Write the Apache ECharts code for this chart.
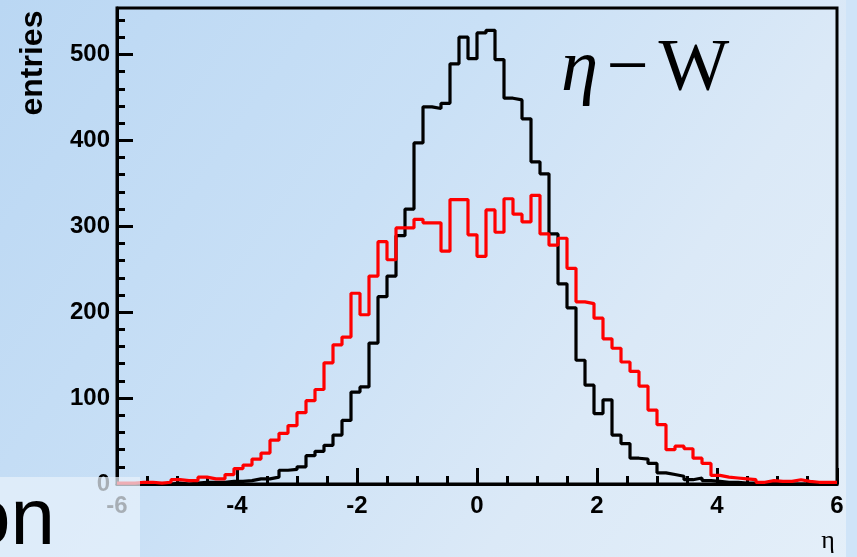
<!DOCTYPE html>
<html>
<head>
<meta charset="utf-8">
<script src="https://cdn.jsdelivr.net/npm/echarts@6/dist/echarts.min.js"></script>
<style>
  html, body { margin: 0; padding: 0; }
  #chart {
    width: 857px; height: 557px;
    background: linear-gradient(125deg, #bad7f3 0%, #c9e0f6 40%, #dbe9f7 70%, #e4eff9 100%);
  }
</style>
</head>
<body>
<div id="chart"></div>
<script>
// Histogram binning: 80 bins of width 0.15 covering eta in [-6, 6]
const binLow = -6;
const binWidth = 0.15;

// Entries per bin, black histogram
const countsBlack = [
  0, 0, 0, 0, 0, 0, 1, 0, 1, 2,
  2, 2, 3, 3, 4, 6, 6, 8, 16, 17,
  20, 33, 38, 45, 57, 74, 107, 113, 164, 218,
  242, 289, 320, 397, 439, 437, 443, 489, 520, 495,
  525, 528, 494, 449, 447, 425, 375, 361, 291, 233,
  205, 144, 115, 82, 98, 57, 47, 30, 29, 24,
  13, 11, 9, 5, 7, 4, 3, 2, 2, 1,
  1, 0, 1, 0, 0, 0, 0, 0, 0, 0
];

// Entries per bin, red histogram
const countsRed = [
  1, 1, 2, 2, 1, 2, 5, 4, 4, 8,
  6, 6, 11, 18, 22, 29, 36, 51, 59, 68,
  83, 97, 110, 141, 162, 171, 222, 197, 242, 282,
  261, 298, 298, 308, 304, 304, 271, 331, 331, 290,
  265, 319, 293, 332, 314, 305, 336, 291, 278, 286,
  251, 212, 210, 193, 169, 158, 142, 131, 114, 86,
  69, 40, 44, 41, 30, 24, 10, 8, 7, 6,
  5, 2, 4, 3, 3, 5, 3, 2, 2, 2
];

// Axis ranges and tick values
const xRange = [-6, 6];
const xMajorStep = 2;
const yRange = [0, 554];
const yMajorTicks = [0, 100, 200, 300, 400, 500];
const yMinorTicks = [20, 40, 60, 80, 120, 140, 160, 180, 220, 240, 260, 280,
                     320, 340, 360, 380, 420, 440, 460, 480, 520, 540];

// Turn bin contents into step-line points: one point per lower bin edge,
// plus the upper edge of the last bin so the final step is drawn.
function stepPoints(counts) {
  const pts = counts.map((c, i) => [binLow + i * binWidth, c]);
  pts.push([binLow + counts.length * binWidth, counts[counts.length - 1]]);
  return pts;
}

const labelFont = {
  color: '#000',
  fontFamily: '"Liberation Sans", Arial, sans-serif',
  fontWeight: 'bold',
  fontSize: 24
};

const chart = echarts.init(document.getElementById('chart'), null, { renderer: 'canvas' });

chart.setOption({
  backgroundColor: 'transparent',
  animation: false,
  grid: {
    left: 117, right: 20, top: 8, bottom: 73,
    show: true,
    borderColor: '#000',
    borderWidth: 3,
    backgroundColor: 'transparent'
  },
  xAxis: {
    type: 'value',
    min: xRange[0], max: xRange[1], interval: xMajorStep,
    axisLine: { show: true, onZero: false, lineStyle: { color: '#000', width: 3 } },
    axisTick: { show: true, inside: true, length: 16, lineStyle: { color: '#000', width: 3 } },
    minorTick: { show: true, splitNumber: 4, length: 8, lineStyle: { color: '#000', width: 3 } },
    splitLine: { show: false },
    axisLabel: Object.assign({ margin: 10 }, labelFont)
  },
  yAxis: [
    {
      type: 'value',
      min: yRange[0], max: yRange[1],
      position: 'left',
      axisLine: { show: true, onZero: false, lineStyle: { color: '#000', width: 3 } },
      axisTick: { show: true, inside: true, length: 16, customValues: yMajorTicks,
                  lineStyle: { color: '#000', width: 3 } },
      splitLine: { show: false },
      axisLabel: Object.assign({ margin: 7, customValues: yMajorTicks }, labelFont)
    },
    {
      type: 'value',
      min: yRange[0], max: yRange[1],
      position: 'left',
      axisLine: { show: false, onZero: false },
      axisTick: { show: true, inside: true, length: 8, customValues: yMinorTicks,
                  lineStyle: { color: '#000', width: 3 } },
      splitLine: { show: false },
      axisLabel: { show: false }
    }
  ],
  series: [
    {
      type: 'line',
      step: 'end',
      symbol: 'none',
      data: stepPoints(countsBlack),
      lineStyle: { color: '#000', width: 3.2 },
      z: 3
    },
    {
      type: 'line',
      step: 'end',
      symbol: 'none',
      data: stepPoints(countsRed),
      lineStyle: { color: '#ff0000', width: 3.2 },
      z: 4
    }
  ],
  graphic: [
    // slide strip at the right edge
    {
      type: 'rect', z: -1, silent: true,
      shape: { x: 846, y: 0, width: 11, height: 557 },
      style: { fill: '#cfe4f8' }
    },
    // y-axis title
    {
      type: 'text', x: 33, y: 63, rotation: Math.PI / 2, z: 10,
      style: {
        text: 'entries',
        font: 'bold 32px "Liberation Sans", Arial, sans-serif',
        fill: '#000', align: 'center', verticalAlign: 'middle'
      }
    },
    // x-axis title
    {
      type: 'text', x: 828, y: 541, z: 10,
      style: {
        text: 'η',
        font: '26px "Liberation Serif", "DejaVu Serif", serif',
        fill: '#000', align: 'center', verticalAlign: 'middle'
      }
    },
    // histogram caption
    {
      type: 'text', x: 561, y: 70, z: 10,
      style: {
        text: '{e|η}{m|−}{w|W}',
        fill: '#000', align: 'left', verticalAlign: 'middle',
        rich: {
          e: { font: 'italic 75px "Liberation Serif", "DejaVu Serif", serif', fill: '#000', padding: [0, 8, 0, 0] },
          m: { font: '75px "Liberation Serif", "DejaVu Serif", serif', fill: '#000', padding: [0, 10, 0, 0] },
          w: { font: '75px "Liberation Serif", "DejaVu Serif", serif', fill: '#000' }
        }
      }
    },
    // translucent text box in the lower-left corner
    {
      type: 'rect', z: 50, silent: true,
      shape: { x: 0, y: 477, width: 140, height: 80 },
      style: { fill: 'rgba(232,241,251,0.72)' }
    },
    {
      type: 'text', x: 55, y: 522, z: 60,
      style: {
        text: 'on',
        font: '80px "Liberation Sans", Arial, sans-serif',
        fill: '#000', align: 'right', verticalAlign: 'middle'
      }
    }
  ]
});
</script>
</body>
</html>
